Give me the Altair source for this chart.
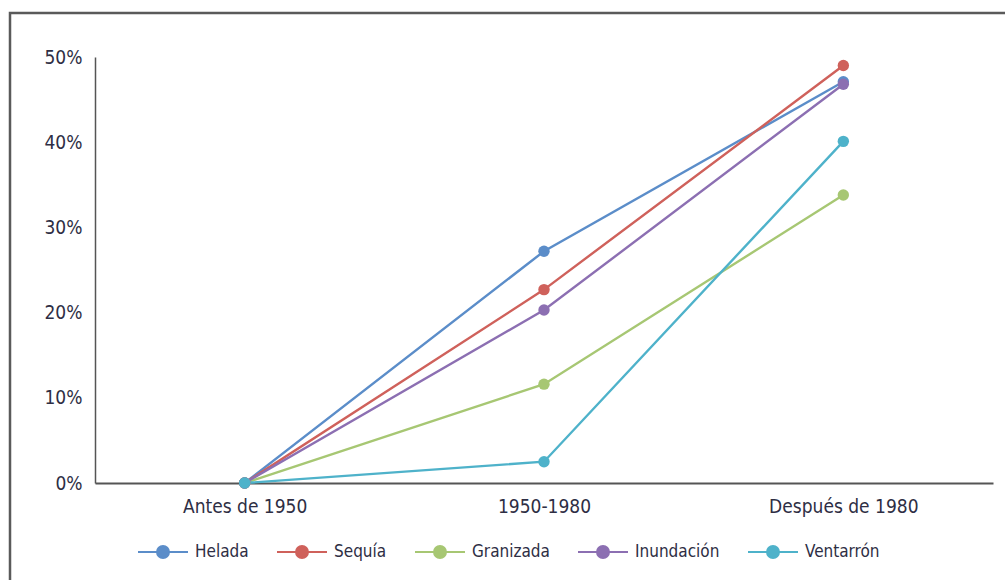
import altair as alt
import pandas as pd

# Period categories along the x axis
periods = ["Antes de 1950", "1950-1980", "Después de 1980"]

# Share of reports per hazard and period (%)
series_names = ["Helada", "Sequía", "Granizada", "Inundación", "Ventarrón"]
helada = [0.0, 27.2, 47.1]
sequia = [0.0, 22.7, 49.0]
granizada = [0.0, 11.6, 33.8]
inundacion = [0.0, 20.3, 46.8]
ventarron = [0.0, 2.5, 40.1]

series_colors = ["#5B8DC9", "#CF615B", "#A7C773", "#8C6FB2", "#4EB2CA"]
y_ticks = [0, 0.1, 0.2, 0.3, 0.4, 0.5]

rows = []
for name, vals in zip(series_names, [helada, sequia, granizada, inundacion, ventarron]):
    for order, (p, v) in enumerate(zip(periods, vals)):
        rows.append({"periodo": p, "riesgo": name, "valor": v / 100.0, "orden": order})
df = pd.DataFrame(rows)

FONT = "DejaVu Sans Condensed, DejaVu Sans, sans-serif"
TEXT = "#2e2e44"

# legend symbol: a short line with a dot in the middle
legend_symbol = (
    "M-1,0L1,0"
    "M-0.24,0A0.24,0.24 0 1,1 0.24,0A0.24,0.24 0 1,1 -0.24,0Z"
)

color = alt.Color(
    "riesgo:N",
    scale=alt.Scale(domain=series_names, range=series_colors),
    sort=series_names,
    legend=alt.Legend(
        title=None,
        orient="none",
        direction="horizontal",
        legendX=42,
        legendY=469,
        symbolType=legend_symbol,
        symbolSize=2500,
        symbolStrokeWidth=2,
        labelFont=FONT,
        labelFontSize=17,
        labelColor=TEXT,
        labelOffset=6,
        columnPadding=24,
        padding=0,
    ),
)

x = alt.X(
    "periodo:N",
    sort=periods,
    scale=alt.Scale(type="point", padding=0.5),
    axis=alt.Axis(
        title=None,
        labelAngle=0,
        ticks=False,
        grid=False,
        domainColor="#555555",
        domainWidth=2,
        labelFont=FONT,
        labelFontSize=19,
        labelColor=TEXT,
        labelPadding=14,
    ),
)
y = alt.Y(
    "valor:Q",
    scale=alt.Scale(domain=[0, 0.5], nice=False),
    axis=alt.Axis(
        title=None,
        values=y_ticks,
        format=".0%",
        ticks=False,
        grid=False,
        domainColor="#555555",
        domainWidth=1.5,
        labelFont=FONT,
        labelFontSize=19,
        labelColor=TEXT,
        labelPadding=13,
    ),
)

base = alt.Chart(df)
lines = base.mark_line(strokeWidth=2.4).encode(
    x=x, y=y, color=color, detail="riesgo:N", order="orden:Q"
)
points = base.mark_point(filled=True, size=130, opacity=1).encode(
    x=x, y=y, color=color
)

# outer frame around the figure
frame = alt.Chart(pd.DataFrame({"k": [0]})).mark_rect(
    fill=None, stroke="#5a5a5a", strokeWidth=2.5
).encode(
    x=alt.value(-85), x2=alt.value(930), y=alt.value(-44), y2=alt.value(540)
)

chart = alt.layer(frame, lines, points).properties(
    width=898,
    height=426,
    padding={"left": 95, "top": 57, "right": 12, "bottom": 97},
    autosize=alt.AutoSizeParams(type="none"),
    background="white",
).configure_view(stroke=None)

chart.save("out.html", embed_options={"renderer": "svg", "actions": False})
